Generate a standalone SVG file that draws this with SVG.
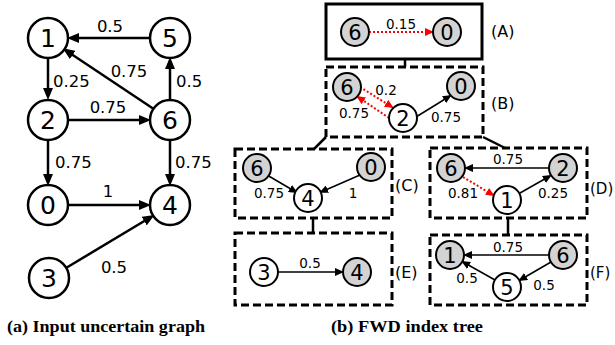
<svg xmlns="http://www.w3.org/2000/svg" width="615" height="345" viewBox="0 0 615 345">
  <style>
    .big { fill: #fff; stroke: #000; stroke-width: 2.5; }
    .sm { fill: #fff; stroke: #000; stroke-width: 2; }
    .gray { fill: #d3d3d3; }
    .bigtxt { font-family: "DejaVu Sans", sans-serif; font-size: 25px; text-anchor: middle; fill: #000; }
    .smtxt { font-family: "DejaVu Sans", sans-serif; font-size: 21px; text-anchor: middle; fill: #000; }
    .elab { font-family: "DejaVu Sans", sans-serif; font-size: 16.5px; fill: #000; }
    .tlab { font-family: "DejaVu Sans", sans-serif; font-size: 13.5px; fill: #000; text-anchor: middle; }
    .blab { font-family: "DejaVu Sans", sans-serif; font-size: 16px; fill: #000; }
    .blab-r { font-family: "DejaVu Sans", sans-serif; font-size: 15px; fill: #000; }
    .cap { font-family: "Liberation Serif", serif; font-size: 16.5px; font-weight: bold; fill: #000; }
    .ea { stroke: #000; stroke-width: 2.5; fill: none; marker-end: url(#hb); }
    .et { stroke: #000; stroke-width: 1.5; fill: none; marker-end: url(#hs); }
    .er { stroke: #f00; stroke-width: 2; stroke-dasharray: 2 2; fill: none; marker-end: url(#hr); }
    .box { fill: none; stroke: #000; stroke-width: 3; }
    .dash { stroke-dasharray: 8 4; }
    .link { stroke: #000; stroke-width: 2.5; fill: none; }
  </style>
  <defs>
    <marker id="hb" markerUnits="userSpaceOnUse" markerWidth="12" markerHeight="10" refX="8" refY="5" orient="auto">
      <path d="M0,0 L12,5 L0,10 z" fill="#000"/>
    </marker>
    <marker id="hs" markerUnits="userSpaceOnUse" markerWidth="9" markerHeight="8" refX="7" refY="4" orient="auto">
      <path d="M0,0 L9,4 L0,8 z" fill="#000"/>
    </marker>
    <marker id="hr" markerUnits="userSpaceOnUse" markerWidth="9" markerHeight="8" refX="7" refY="4" orient="auto">
      <path d="M0,0 L9,4 L0,8 z" fill="#f00"/>
    </marker>
  </defs>

  <!-- (a) input uncertain graph: edges -->
  <g id="a-edges">
    <line class="ea" x1="150" y1="38" x2="71" y2="38"/>
    <line class="ea" x1="48" y1="58" x2="48" y2="96"/>
    <line class="ea" x1="153" y1="108.5" x2="66" y2="50.5"/>
    <line class="ea" x1="170" y1="100" x2="170" y2="61"/>
    <line class="ea" x1="68" y1="120" x2="147" y2="120"/>
    <line class="ea" x1="48" y1="139" x2="48" y2="182"/>
    <line class="ea" x1="170" y1="140" x2="170" y2="182"/>
    <line class="ea" x1="68" y1="205" x2="147" y2="205"/>
    <line class="ea" x1="66" y1="268" x2="151" y2="217"/>
    <text class="elab" x="110" y="32" text-anchor="middle">0.5</text>
    <text class="elab" x="53" y="87">0.25</text>
    <text class="elab" x="129" y="77" text-anchor="middle">0.75</text>
    <text class="elab" x="176" y="87">0.5</text>
    <text class="elab" x="108" y="113" text-anchor="middle">0.75</text>
    <text class="elab" x="55" y="168">0.75</text>
    <text class="elab" x="175" y="168">0.75</text>
    <text class="elab" x="108" y="197" text-anchor="middle">1</text>
    <text class="elab" x="114" y="273" text-anchor="middle">0.5</text>
  </g>

  <!-- (a) nodes -->
  <g id="a-n1"><circle class="big" cx="48" cy="38" r="20"/><text class="bigtxt" x="48" y="47">1</text></g>
  <g id="a-n5"><circle class="big" cx="170" cy="38" r="20"/><text class="bigtxt" x="170" y="47">5</text></g>
  <g id="a-n2"><circle class="big" cx="48" cy="120" r="20"/><text class="bigtxt" x="48" y="129">2</text></g>
  <g id="a-n6"><circle class="big" cx="170" cy="120" r="20"/><text class="bigtxt" x="170" y="129">6</text></g>
  <g id="a-n0"><circle class="big" cx="48" cy="205" r="20"/><text class="bigtxt" x="48" y="214">0</text></g>
  <g id="a-n4"><circle class="big" cx="170" cy="205" r="20"/><text class="bigtxt" x="170" y="214">4</text></g>
  <g id="a-n3"><circle class="big" cx="49" cy="278" r="20"/><text class="bigtxt" x="49" y="287">3</text></g>

  <text class="cap" x="7" y="332" textLength="198" lengthAdjust="spacingAndGlyphs">(a) Input uncertain graph</text>

  <!-- (b) index tree: boxes and tree links -->
  <g id="tree-links">
    <line class="link" x1="405" y1="59" x2="405" y2="67"/>
    <line class="link" x1="326" y1="137" x2="314" y2="149"/>
    <line class="link" x1="483" y1="137" x2="505" y2="148"/>
    <line class="link" x1="313" y1="218" x2="313" y2="233"/>
    <line class="link" x1="508" y1="218" x2="508" y2="235"/>
  </g>
  <g id="boxes">
    <rect class="box" x="326" y="4" width="156" height="55"/>
    <rect class="box dash" x="326" y="67" width="157" height="70"/>
    <rect class="box dash" x="235" y="149" width="157" height="69"/>
    <rect class="box dash" x="430" y="148" width="157" height="70"/>
    <rect class="box dash" x="235" y="233" width="157" height="72"/>
    <rect class="box dash" x="430" y="235" width="157" height="70"/>
    <text class="blab" x="491" y="37">(A)</text>
    <text class="blab" x="491" y="109">(B)</text>
    <text class="blab" x="395" y="191">(C)</text>
    <text class="blab-r" x="590" y="194">(D)</text>
    <text class="blab" x="395" y="278">(E)</text>
    <text class="blab-r" x="590" y="278">(F)</text>
  </g>

  <!-- tree edges -->
  <g id="tree-edges">
    <line class="er" x1="369" y1="32" x2="432" y2="32"/>
    <text class="tlab" x="401" y="29">0.15</text>

    <line class="er" x1="360" y1="87" x2="392" y2="107"/>
    <line class="er" x1="389" y1="118" x2="358" y2="97"/>
    <line class="et" x1="416" y1="117" x2="450" y2="96"/>
    <text class="tlab" x="386" y="95">0.2</text>
    <text class="tlab" x="354" y="118">0.75</text>
    <text class="tlab" x="446" y="122">0.75</text>

    <line class="et" x1="267" y1="175" x2="296" y2="192"/>
    <line class="et" x1="360" y1="175" x2="321" y2="192"/>
    <text class="tlab" x="269" y="198">0.75</text>
    <text class="tlab" x="353" y="198">1</text>

    <line class="et" x1="278" y1="272" x2="342" y2="272"/>
    <text class="tlab" x="310" y="268">0.5</text>

    <line class="et" x1="549" y1="168" x2="466" y2="168"/>
    <line class="er" x1="463" y1="177" x2="493" y2="195"/>
    <line class="et" x1="520" y1="193" x2="550" y2="176"/>
    <text class="tlab" x="508" y="164">0.75</text>
    <text class="tlab" x="463" y="198">0.81</text>
    <text class="tlab" x="553" y="198">0.25</text>

    <line class="et" x1="549" y1="255" x2="465" y2="255"/>
    <line class="et" x1="495" y1="280" x2="463" y2="262"/>
    <line class="et" x1="551" y1="262" x2="520" y2="280"/>
    <text class="tlab" x="508" y="252">0.75</text>
    <text class="tlab" x="467" y="283">0.5</text>
    <text class="tlab" x="544" y="290">0.5</text>
  </g>

  <!-- tree nodes -->
  <g id="A-n6"><circle class="sm gray" cx="355" cy="32" r="14"/><text class="smtxt" x="355" y="39.6">6</text></g>
  <g id="A-n0"><circle class="sm gray" cx="447" cy="32" r="14"/><text class="smtxt" x="447" y="39.6">0</text></g>

  <g id="B-n6"><circle class="sm gray" cx="347" cy="87" r="14"/><text class="smtxt" x="347" y="94.6">6</text></g>
  <g id="B-n2"><circle class="sm" cx="403" cy="118" r="14"/><text class="smtxt" x="403" y="125.6">2</text></g>
  <g id="B-n0"><circle class="sm gray" cx="461" cy="86" r="14"/><text class="smtxt" x="461" y="93.6">0</text></g>

  <g id="C-n6"><circle class="sm gray" cx="257" cy="168" r="14"/><text class="smtxt" x="257" y="175.6">6</text></g>
  <g id="C-n0"><circle class="sm gray" cx="371" cy="167" r="14"/><text class="smtxt" x="371" y="174.6">0</text></g>
  <g id="C-n4"><circle class="sm" cx="308" cy="198" r="14"/><text class="smtxt" x="308" y="205.6">4</text></g>

  <g id="E-n3"><circle class="sm" cx="264" cy="272" r="14"/><text class="smtxt" x="264" y="279.6">3</text></g>
  <g id="E-n4"><circle class="sm gray" cx="357" cy="272" r="14"/><text class="smtxt" x="357" y="279.6">4</text></g>

  <g id="D-n6"><circle class="sm gray" cx="451" cy="168" r="14"/><text class="smtxt" x="451" y="175.6">6</text></g>
  <g id="D-n2"><circle class="sm gray" cx="563" cy="168" r="14"/><text class="smtxt" x="563" y="175.6">2</text></g>
  <g id="D-n1"><circle class="sm" cx="507" cy="200" r="14"/><text class="smtxt" x="507" y="207.6">1</text></g>

  <g id="F-n1"><circle class="sm gray" cx="450" cy="255" r="14"/><text class="smtxt" x="450" y="262.6">1</text></g>
  <g id="F-n6"><circle class="sm gray" cx="563" cy="255" r="14"/><text class="smtxt" x="563" y="262.6">6</text></g>
  <g id="F-n5"><circle class="sm" cx="507" cy="287" r="14"/><text class="smtxt" x="507" y="294.6">5</text></g>

  <text class="cap" x="331" y="332" textLength="152" lengthAdjust="spacingAndGlyphs">(b) FWD index tree</text>
</svg>
